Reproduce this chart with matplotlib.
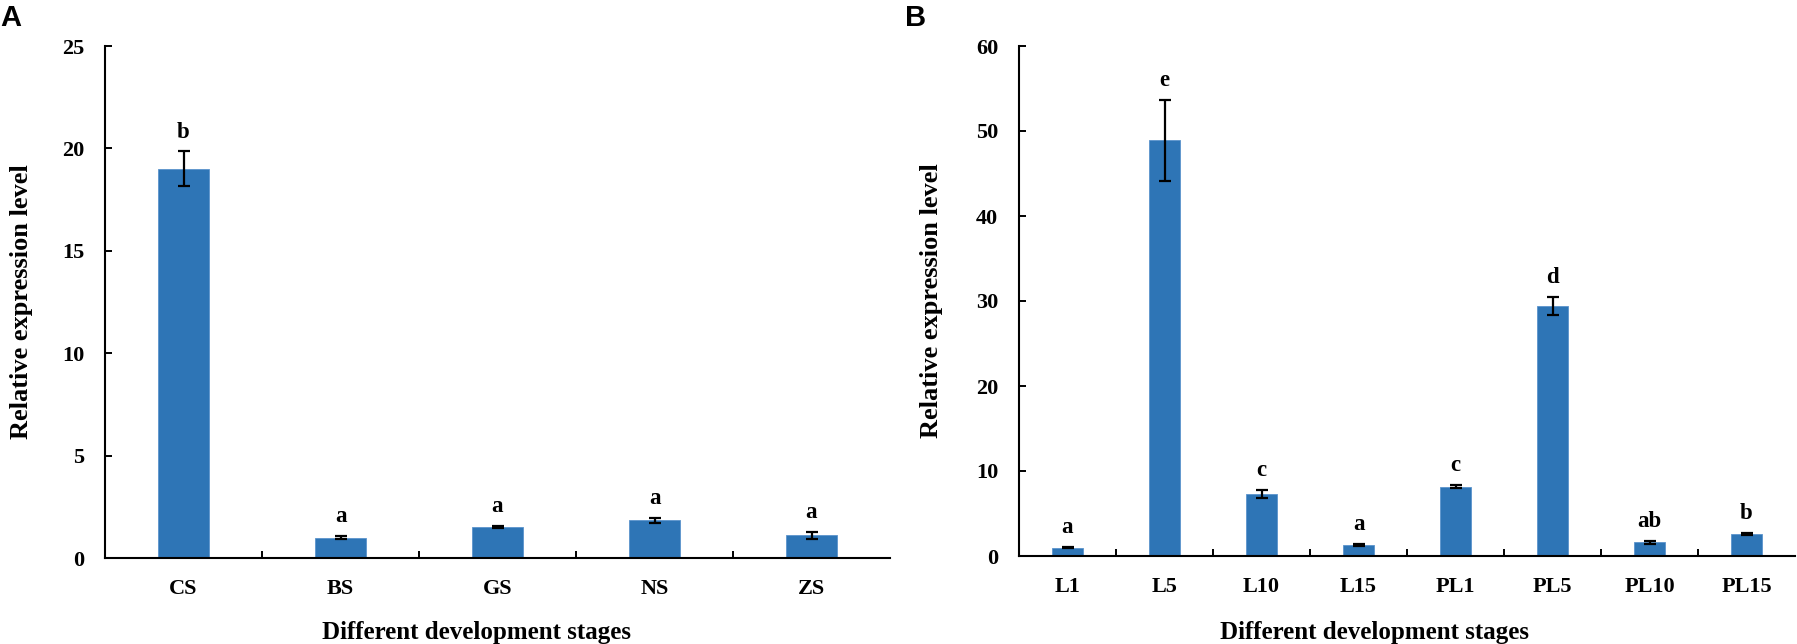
import matplotlib
matplotlib.use("Agg")
import matplotlib.pyplot as plt
import numpy as np

# ---- data ----
stages_a = ["CS", "BS", "GS", "NS", "ZS"]
values_a = [19.0, 1.0, 1.5, 1.85, 1.1]
errors_a = [0.85, 0.07, 0.05, 0.12, 0.17]
letters_a = ["b", "a", "a", "a", "a"]
yticks_a = [0, 5, 10, 15, 20, 25]

stages_b = ["L1", "L5", "L10", "L15", "PL1", "PL5", "PL10", "PL15"]
values_b = [1.0, 48.9, 7.3, 1.3, 8.15, 29.4, 1.6, 2.6]
errors_b = [0.1, 4.8, 0.5, 0.15, 0.2, 1.05, 0.2, 0.1]
letters_b = ["a", "e", "c", "a", "c", "d", "ab", "b"]
yticks_b = [0, 10, 20, 30, 40, 50, 60]

ylabel = "Relative expression level"
xlabel = "Different development stages"

BAR = "#2E75B6"
SERIF = ["Liberation Serif", "DejaVu Serif"]

fig = plt.figure(figsize=(17.97, 6.44), dpi=100)
W, H = 1797, 644


def panel(rect, cats, vals, errs, letters, yticks, bw, ylab_x, xlab_x, xlab_y):
    ax = fig.add_axes(rect)
    x = np.arange(len(cats))
    ax.bar(x, vals, width=bw, color=BAR, edgecolor="#5b93cc", linewidth=0.6, zorder=2)
    ax.errorbar(x, vals, yerr=errs, fmt="none", ecolor="black", elinewidth=1.6,
                capsize=4.5, capthick=1.6, zorder=3)
    for xi, v, e, l in zip(x, vals, errs, letters):
        ax.annotate(l, (xi, v + e), xytext=(0, 10), textcoords="offset points",
                    ha="center", va="baseline", fontsize=16.5, fontweight="bold",
                    family=SERIF)
    ax.set_xlim(-0.5, len(cats) - 0.5)
    ax.set_ylim(yticks[0], yticks[-1])
    ax.set_yticks(yticks)
    ax.set_yticklabels([str(t) for t in yticks], family=SERIF, fontweight="bold", fontsize=16)
    ax.set_xticks(x)
    ax.set_xticklabels(cats, family=SERIF, fontweight="bold", fontsize=16)
    ax.set_xticks(np.arange(0.5, len(cats) - 0.5, 1.0), minor=True)
    ax.tick_params(axis="x", which="major", length=0, pad=15)
    ax.tick_params(axis="x", which="minor", direction="in", length=5, width=1.4)
    ax.tick_params(axis="y", direction="in", length=5, width=1.4, pad=15)
    for s in ["top", "right"]:
        ax.spines[s].set_visible(False)
    for s in ["left", "bottom"]:
        ax.spines[s].set_linewidth(1.5)
    ax.set_ylabel(ylabel, family=SERIF, fontweight="bold", fontsize=19)
    ax.set_xlabel(xlabel, family=SERIF, fontweight="bold", fontsize=18, va="baseline")
    ax.yaxis.set_label_coords(ylab_x, 0.5)
    ax.xaxis.set_label_coords(xlab_x, xlab_y)
    return ax


# panel A: axis x 105..890, y 46..558
axA = panel([105 / W, 1 - 558 / H, (890 - 105) / W, (558 - 46) / H],
            stages_a, values_a, errors_a, letters_a, yticks_a, 0.32,
            (33 - 105) / (890 - 105), (476 - 105) / (890 - 105), -(639 - 558) / (558 - 46))
# panel B: axis x 1019..1795, y 46..556
axB = panel([1019 / W, 1 - 556 / H, (1795 - 1019) / W, (556 - 46) / H],
            stages_b, values_b, errors_b, letters_b, yticks_b, 0.31,
            (943 - 1019) / (1795 - 1019), (1375 - 1019) / (1795 - 1019), -(639 - 556) / (556 - 46))

fig.text(0 / W, 1 - 4 / H, "A", ha="left", va="top", fontsize=21, fontweight="bold",
         family=["Liberation Sans", "DejaVu Sans"])
fig.text(905 / W, 1 - 4 / H, "B", ha="left", va="top", fontsize=21, fontweight="bold",
         family=["Liberation Sans", "DejaVu Sans"])

fig.savefig("out.png", dpi=100, facecolor="white")
